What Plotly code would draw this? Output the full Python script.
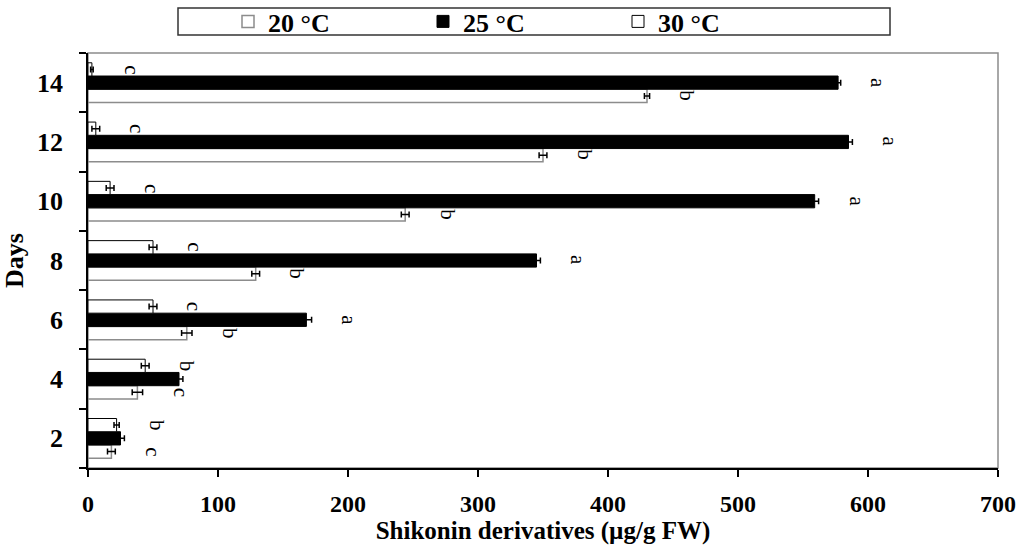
import plotly.graph_objects as go

days = [2, 4, 6, 8, 10, 12, 14]
t20 = [18, 38, 76, 129, 244, 350, 430]
e20 = [3, 4, 4, 3, 3, 3, 2]
t25 = [25, 70, 168, 345, 559, 585, 577]
e25 = [3, 3, 4, 3, 3, 3, 2]
t30 = [22, 44, 50, 50, 17, 6, 3]
e30 = [2, 3, 3, 3, 3, 3, 1]
let20 = ["c", "c", "b", "b", "b", "b", "b"]
let25 = ["", "", "a", "a", "a", "a", "a"]
let30 = ["b", "b", "c", "c", "c", "c", "c"]
names = ["20 °C", "25 °C", "30 °C"]

FONT = "Liberation Serif"
FS = 26
BARGAP = 0.33
GROUP = 2 * (1 - BARGAP)
BW = GROUP / 3

fig = go.Figure()
styles = [
    dict(color="white", line=dict(color="#8c8c8c", width=1.5)),
    dict(color="black", line=dict(color="black", width=1)),
    dict(color="white", line=dict(color="black", width=1)),
]
series = [(t20, e20), (t25, e25), (t30, e30)]
for i, ((vals, errs), st) in enumerate(zip(series, styles)):
    fig.add_trace(go.Bar(
        y=days, x=vals, orientation="h", name=names[i], marker=st,
        error_x=dict(type="data", array=errs, color="black", thickness=1.5, width=3),
    ))
    if i == 1:
        # invisible spacer entry in legend
        fig.add_trace(go.Bar(y=[], x=[], orientation="h", name=" ",
                             marker=dict(color="rgba(0,0,0,0)", line=dict(width=0)),
                             hoverinfo="skip"))

offsets = [-BW, 0, BW]
for (vals, errs), lets, off in zip(series, [let20, let25, let30], offsets):
    for d, v, e, l in zip(days, vals, errs, lets):
        if l:
            fig.add_annotation(x=v + e, y=d + off, text=l, showarrow=False,
                               xshift=38, textangle=90,
                               font=dict(family=FONT, size=21, color="black"))

fig.add_shape(type="rect", xref="paper", yref="paper", x0=0, x1=1, y0=0, y1=1,
              line=dict(color="#8c8c8c", width=1.5), layer="below")
fig.add_shape(type="rect", xref="paper", yref="paper",
              x0=(178 - 88) / 910, x1=(890 - 88) / 910,
              y0=1 + (53 - 35) / 415, y1=1 + (53 - 8) / 415,
              line=dict(color="#333333", width=1.5))

fig.update_layout(
    width=1028, height=547, autosize=False,
    margin=dict(l=88, r=30, t=53, b=79, autoexpand=False),
    plot_bgcolor="white", paper_bgcolor="white",
    barmode="group", bargap=BARGAP, bargroupgap=0,
    font=dict(family=FONT, color="black"),
    showlegend=True,
    legend=dict(orientation="h", x=(228 - 88) / 910, xanchor="left",
                y=1 + (53 - 21.5) / 415, yanchor="middle",
                entrywidth=150, entrywidthmode="pixels",
                font=dict(family=FONT, size=FS, weight="bold", color="black"),
                bgcolor="rgba(0,0,0,0)", borderwidth=0, traceorder="normal"),
    xaxis=dict(range=[0, 700], dtick=100, tick0=0, ticks="outside", ticklen=7,
               tickwidth=1.5, tickcolor="black", showline=True, linecolor="black",
               linewidth=1.5, showgrid=False, zeroline=False, automargin=False,
               tickfont=dict(family=FONT, size=24, weight="bold"),
               ticklabelstandoff=6,
               title=dict(text="Shikonin derivatives (µg/g FW)", standoff=4,
                          font=dict(family=FONT, size=25, weight="bold"))),
    yaxis=dict(range=[1, 15], tickvals=days, ticks="", showline=True,
               linecolor="black", linewidth=1.5, showgrid=False, zeroline=False,
               automargin=False,
               tickfont=dict(family=FONT, size=FS, weight="bold"),
               ticklabelstandoff=18,
               minor=dict(tick0=1, dtick=2, ticks="outside", ticklen=7,
                          tickwidth=1.5, tickcolor="black", showgrid=False),
               title=dict(text="Days", standoff=6,
                          font=dict(family=FONT, size=FS, weight="bold"))),
)

fig.write_html("out.html", config={"displayModeBar": False},
               post_script="document.body.style.margin='0';document.body.style.overflow='hidden';")
